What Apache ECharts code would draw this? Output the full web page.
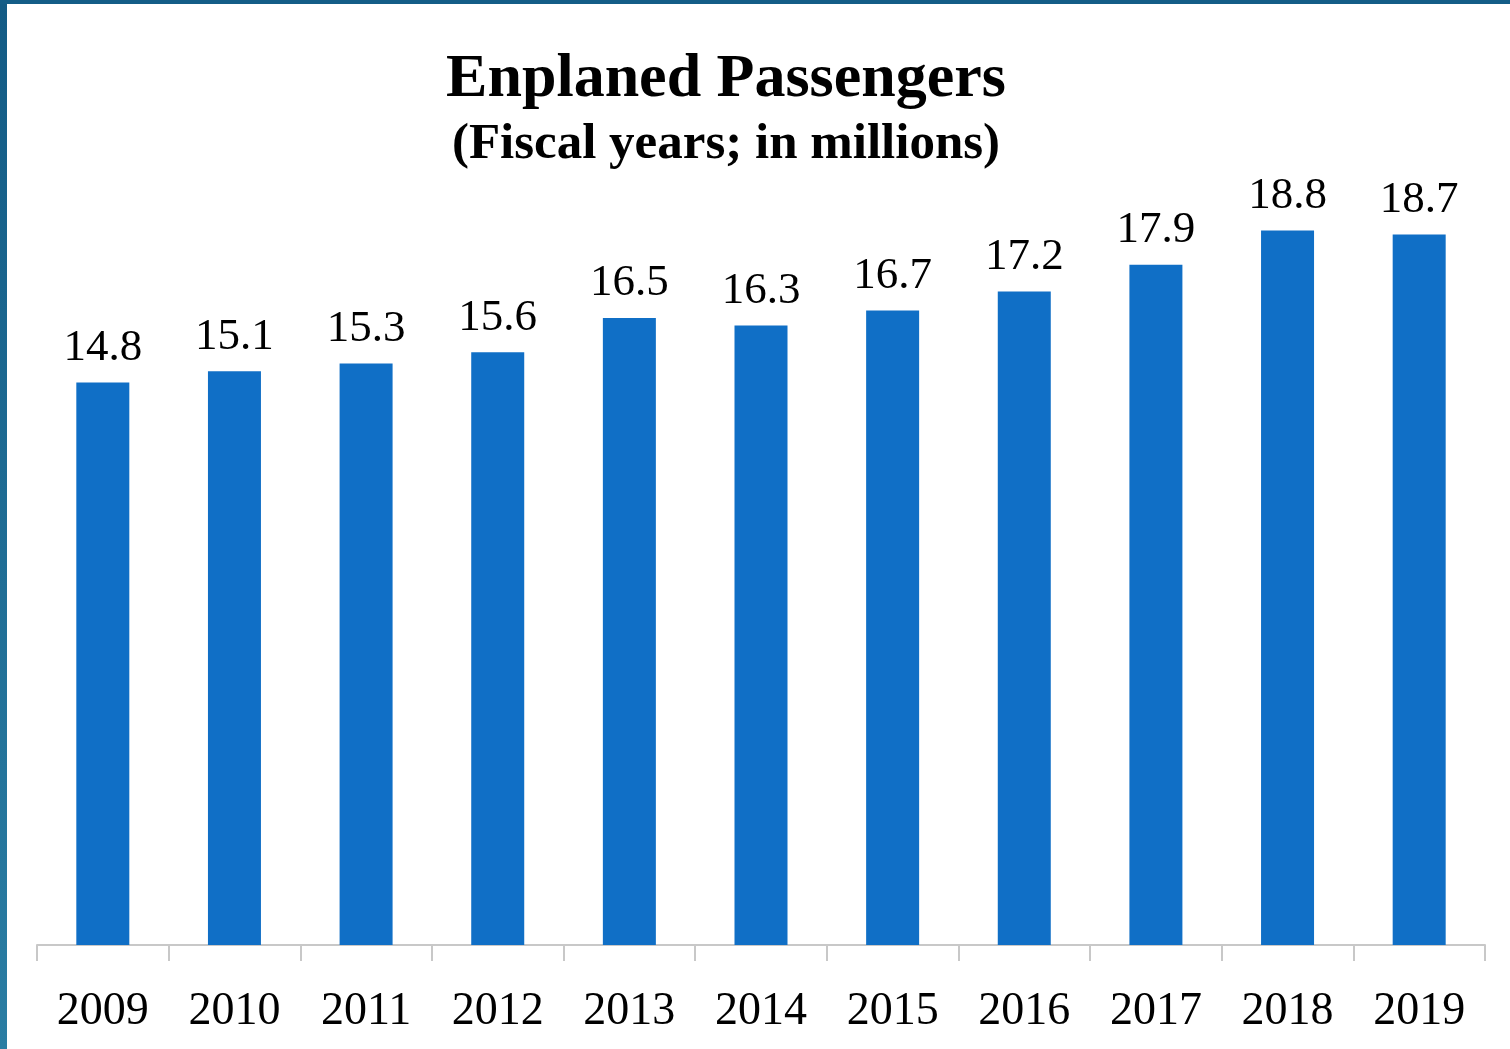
<!DOCTYPE html>
<html>
<head>
<meta charset="utf-8">
<script src="https://cdn.jsdelivr.net/npm/echarts@6/dist/echarts.min.js"></script>
<style>
  html, body { margin: 0; padding: 0; background: #fff; }
  .frame {
    position: relative;
    width: 1510px;
    height: 1049px;
    box-sizing: border-box;
    border-top: 4px solid #145d87;
    overflow: hidden;
  }
  .frame::before {
    content: "";
    position: absolute;
    left: 0; top: 0; bottom: 0;
    width: 7px;
    z-index: 2;
    background: linear-gradient(#135b85, #2a7da3);
  }
  #chart { position: absolute; left: 0; top: -4px; width: 1510px; height: 1049px; }
</style>
</head>
<body>
<div class="frame">
  <div id="chart"></div>
</div>
<script>
// 数据
const years = ["2009", "2010", "2011", "2012", "2013", "2014", "2015", "2016", "2017", "2018", "2019"];
const passengers = [14.8, 15.1, 15.3, 15.6, 16.5, 16.3, 16.7, 17.2, 17.9, 18.8, 18.7];

const font = "'Liberation Serif', 'DejaVu Serif', serif";

const option = {
  animation: false,
  title: [
    {
      text: "Enplaned Passengers",
      left: 721,
      top: 44,
      textAlign: "center",
      textStyle: { fontFamily: font, fontWeight: "bold", fontSize: 62, color: "#000" },
    },
    {
      text: "(Fiscal years; in millions)",
      left: 721,
      top: 114,
      textAlign: "center",
      textStyle: { fontFamily: font, fontWeight: "bold", fontSize: 51, color: "#000" },
    },
  ],
  grid: { left: 37, right: 25, top: 185, bottom: 104 },
  xAxis: {
    type: "category",
    data: years,
    axisLine: { lineStyle: { color: "#c8c8c8", width: 2 } },
    axisTick: { show: true, length: 16, lineStyle: { color: "#c8c8c8", width: 2 } },
    axisLabel: { margin: 44, fontFamily: font, fontSize: 46, color: "#000" },
  },
  yAxis: {
    type: "value",
    min: 0,
    max: 20,
    show: false,
    splitLine: { show: false },
  },
  series: [
    {
      type: "bar",
      data: passengers,
      barWidth: 53,
      itemStyle: { color: "#106fc6" },
      label: {
        show: true,
        position: "top",
        distance: 12,
        fontFamily: font,
        fontSize: 45,
        color: "#000",
        formatter: (p) => p.value.toFixed(1),
      },
    },
  ],
};

const myChart = echarts.init(document.getElementById("chart"));
myChart.setOption(option);
</script>
</body>
</html>
